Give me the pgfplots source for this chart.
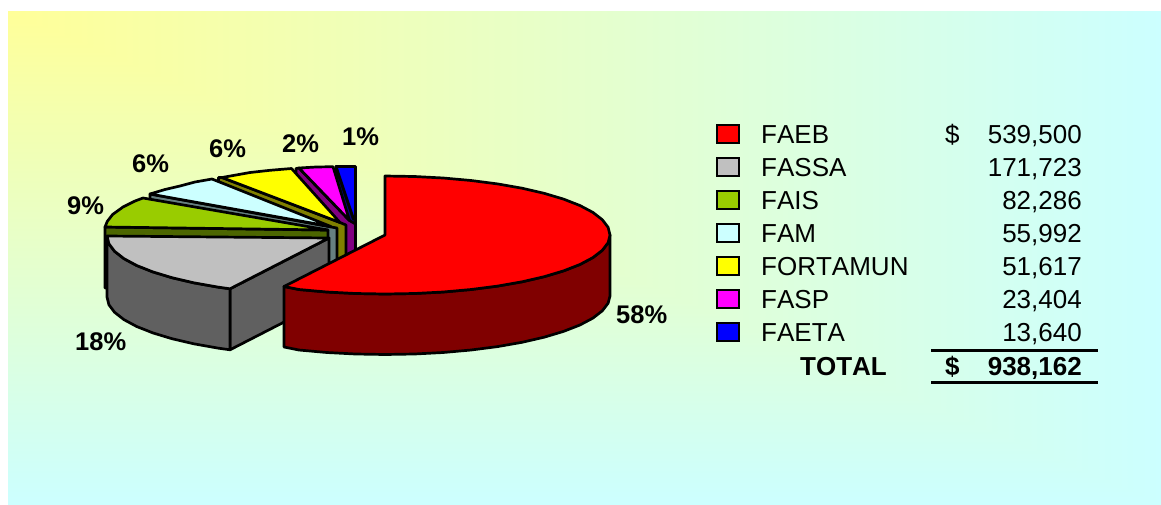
\documentclass[border=0pt]{standalone}
\usepackage{fontspec}
\setmainfont{Liberation Sans}[Kerning=Off]
\usepackage{pgfplots}
\pgfplotsset{compat=1.18}

\definecolor{cred}{HTML}{FF0000}   \definecolor{dred}{HTML}{800000}
\definecolor{cgray}{HTML}{C0C0C0}  \definecolor{dgray}{HTML}{606060}
\definecolor{cgreen}{HTML}{99CC00} \definecolor{dgreen}{HTML}{4C6600}
\definecolor{ccyan}{HTML}{CCFFFF}  \definecolor{dcyan}{HTML}{668080}
\definecolor{cyell}{HTML}{FFFF00}  \definecolor{dyell}{HTML}{808000}
\definecolor{cmag}{HTML}{FF00FF}   \definecolor{dmag}{HTML}{800080}
\definecolor{cblue}{HTML}{0000FF}  \definecolor{dblue}{HTML}{000080}

\tikzset{
    slice/.style={draw=black,line width=2.7pt,line join=round,fill=#1},
    swatch/.style={draw=black,line width=1.6pt,line join=miter,fill=#1},
    rule/.style={draw=black,line width=3pt},
    pct/.style={anchor=base west,inner sep=0pt,font=\fontsize{25.5}{30}\selectfont\bfseries},
    leg/.style={anchor=base west,inner sep=0pt,font=\fontsize{26}{30}\selectfont},
    num/.style={anchor=base east,inner sep=0pt,font=\fontsize{26}{30}\selectfont},
}

\begin{document}
\begin{tikzpicture}
\begin{axis}[
    scale only axis,
    width=1161pt,
    height=504pt,
    xmin=0,xmax=1161,
    ymin=0,ymax=504,
    y dir=reverse,
    hide axis,
    clip=false,
    point meta min=0,
    point meta max=1,
    colormap={bg}{rgb255=(255,255,153) rgb255=(204,255,255)},
]
    % keep the white margin in the page
    \addplot[draw=none,fill=white] coordinates {(0,0) (1161,0) (1161,504) (0,504)} -- cycle;

    % background, corner gradient
    \addplot[patch,patch type=triangle,shader=interp,point meta=explicit]
        coordinates {
            (8,11) [0] (1161,11) [1] (1161,504) [1]
            (8,11) [0] (8,504) [1] (1161,504) [1]
        };

    % blue
    \addplot[slice=dblue] coordinates {(336,166.5) (353.5,219) (355.5,219) (355.5,280) (340,228)} -- cycle;
    \addplot[slice=cblue] coordinates {(336,166.5) (355.5,166.5) (355.5,219) (353.5,219)} -- cycle;

    % magenta
    \addplot[slice=dmag] coordinates {(296,168.5) (299,168) (349.5,220.5) (355.5,224) (355.5,283) (296,229)} -- cycle;
    \addplot[slice=cmag] coordinates {(299,168) (316,167) (333,166.7) (349.5,220.5)} -- cycle;

    % yellow
    \addplot[slice=dyell] coordinates {(218.5,177.5) (222,177.5) (340,222.5) (346,225) (346,285) (218.5,238)} -- cycle;
    \addplot[slice=cyell] coordinates {(222,177.5) (250,172.5) (270,170.3) (291.5,168.5) (340,222.5)} -- cycle;

    % light cyan
    \addplot[slice=dcyan] coordinates {(150,194) (331,227) (337,228) (337,288) (150,255)} -- cycle;
    \addplot[slice=ccyan] coordinates {(150,194) (165,189.5) (180,186) (195,182) (212,179) (331,226.5)} -- cycle;

    % green
    \addplot[slice=dgreen] coordinates {(105,227) (328,230) (328,291) (105,288)} -- cycle;
    \addplot[slice=cgreen] coordinates {(105,227) (107.2,221.5) (112.6,214.5) (123,207) (135,201) (143,198) (328,230)} -- cycle;

    % gray, sides then top
    \addplot[slice=dgray] coordinates {(230,288.8) (329,238) (329,299) (230,349.8)} -- cycle;
    \addplot[slice=dgray] coordinates {
        (107,236) (108.9,243.7) (114.6,251.3) (123.9,258.6) (136.7,265.5) (152.9,271.9)
        (172,277.7) (193.8,282.8) (218,287.1) (230,288.8)
        (230,349.8) (218,348.1) (193.8,343.8) (172,338.7) (152.9,332.9) (136.7,326.5)
        (123.9,319.6) (114.6,312.3) (108.9,304.7) (107,297)} -- cycle;
    \addplot[slice=cgray] coordinates {
        (107,236) (108.9,243.7) (114.6,251.3) (123.9,258.6) (136.7,265.5) (152.9,271.9)
        (172,277.7) (193.8,282.8) (218,287.1) (230,288.8) (329,238)} -- cycle;

    % red, side then top
    \addplot[slice=dred] coordinates {
        (610,235) (608.1,242.7) (602.3,250.3) (592.9,257.6) (579.9,264.5) (563.5,270.9)
        (544.1,276.7) (522,281.8) (497.5,286.1) (471.1,289.5) (443.2,292) (414.4,293.5)
        (385,294) (355.6,293.5) (326.8,292) (298.9,289.5) (284,286.5)
        (284,347) (298.9,350) (326.8,352.5) (355.6,354) (385,354.5) (414.4,354) (443.2,352.5)
        (471.1,350) (497.5,346.6) (522,342.3) (544.1,337.2) (563.5,331.4) (579.9,325)
        (592.9,318.1) (602.3,310.8) (608.1,303.2) (610,296)} -- cycle;
    \addplot[slice=cred] coordinates {
        (385,176) (414.4,176.5) (443.2,178) (471.1,180.5) (497.5,183.9) (522,188.2)
        (544.1,193.3) (563.5,199.1) (579.9,205.5) (592.9,212.4) (602.3,219.7) (608.1,227.3)
        (610,235) (608.1,242.7) (602.3,250.3) (592.9,257.6) (579.9,264.5) (563.5,270.9)
        (544.1,276.7) (522,281.8) (497.5,286.1) (471.1,289.5) (443.2,292) (414.4,293.5)
        (385,294) (355.6,293.5) (326.8,292) (298.9,289.5) (284,286.5) (385,235)} -- cycle;

    % percent labels
    \node[pct] at (axis cs:616,323) {58\%};
    \node[pct] at (axis cs:75,350) {18\%};
    \node[pct] at (axis cs:67,214) {9\%};
    \node[pct] at (axis cs:132,172) {6\%};
    \node[pct] at (axis cs:209,157.5) {6\%};
    \node[pct] at (axis cs:282,152) {2\%};
    \node[pct] at (axis cs:342,145) {1\%};

    % legend swatches
    \addplot[swatch=cred]   coordinates {(717,125) (739,125) (739,143) (717,143)} -- cycle;
    \addplot[swatch=cgray]  coordinates {(717,158) (739,158) (739,176) (717,176)} -- cycle;
    \addplot[swatch=cgreen] coordinates {(717,191) (739,191) (739,209) (717,209)} -- cycle;
    \addplot[swatch=ccyan]  coordinates {(717,224) (739,224) (739,242) (717,242)} -- cycle;
    \addplot[swatch=cyell]  coordinates {(717,257) (739,257) (739,275) (717,275)} -- cycle;
    \addplot[swatch=cmag]   coordinates {(717,290) (739,290) (739,308) (717,308)} -- cycle;
    \addplot[swatch=cblue]  coordinates {(717,323) (739,323) (739,341) (717,341)} -- cycle;

    \node[leg] at (axis cs:761,143) {FAEB};
    \node[leg] at (axis cs:761,176) {FASSA};
    \node[leg] at (axis cs:761,209) {FAIS};
    \node[leg] at (axis cs:761,242) {FAM};
    \node[leg] at (axis cs:761,275) {FORTAMUN};
    \node[leg] at (axis cs:761,308) {FASP};
    \node[leg] at (axis cs:761,341) {FAETA};

    \node[leg] at (axis cs:945,143) {\$};
    \node[num] at (axis cs:1082,143) {539,500};
    \node[num] at (axis cs:1082,176) {171,723};
    \node[num] at (axis cs:1082,209) {82,286};
    \node[num] at (axis cs:1082,242) {55,992};
    \node[num] at (axis cs:1082,275) {51,617};
    \node[num] at (axis cs:1082,308) {23,404};
    \node[num] at (axis cs:1082,341) {13,640};

    \addplot[rule] coordinates {(931,350) (1098,350)};
    \addplot[rule] coordinates {(931,382.5) (1098,382.5)};
    \node[leg,font=\fontsize{26}{30}\selectfont\bfseries] at (axis cs:800,375) {TOTAL};
    \node[leg,font=\fontsize{26}{30}\selectfont\bfseries] at (axis cs:945,375) {\$};
    \node[num,font=\fontsize{26}{30}\selectfont\bfseries] at (axis cs:1082,375) {938,162};
\end{axis}
\end{tikzpicture}
\end{document}
